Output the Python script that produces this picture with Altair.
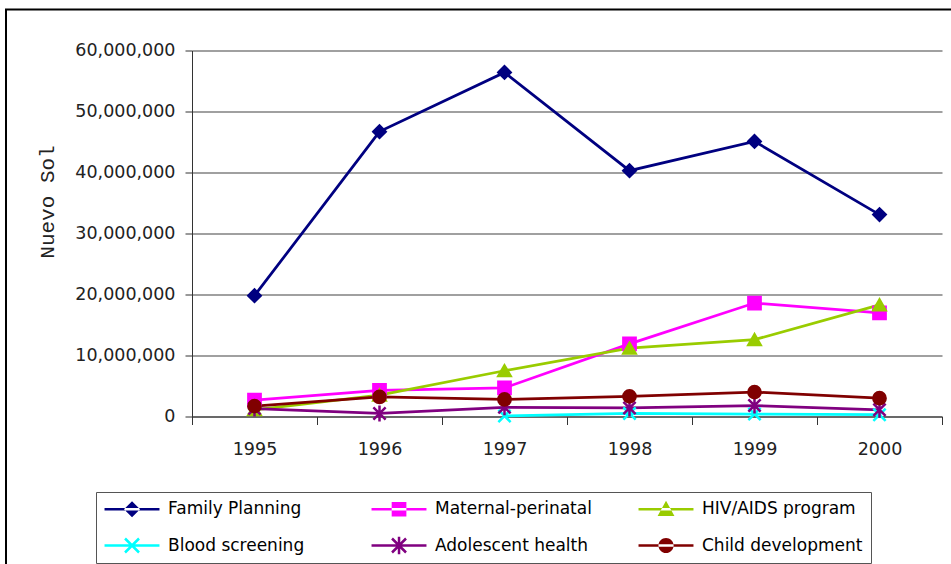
import math

import altair as alt
import pandas as pd

# Annual spending by programme, in Nuevo Sol
years = [1995, 1996, 1997, 1998, 1999, 2000]
series_names = [
    "Family Planning",
    "Maternal-perinatal",
    "HIV/AIDS program",
    "Blood screening",
    "Adolescent health",
    "Child development",
]
family_planning = [19_800_000, 46_700_000, 56_400_000, 40_300_000, 45_100_000, 33_100_000]
maternal_perinatal = [2_700_000, 4_300_000, 4_700_000, 11_900_000, 18_600_000, 17_000_000]
hiv_aids = [1_100_000, 3_500_000, 7_500_000, 11_200_000, 12_600_000, 18_300_000]
blood_screening = [None, None, 100_000, 500_000, 400_000, 300_000]
adolescent_health = [1_300_000, 500_000, 1_500_000, 1_400_000, 1_800_000, 1_100_000]
child_development = [1_700_000, 3_200_000, 2_800_000, 3_300_000, 4_000_000, 3_000_000]
y_ticks = [0, 10_000_000, 20_000_000, 30_000_000, 40_000_000, 50_000_000, 60_000_000]

series_colors = ["#000080", "#FF00FF", "#99CC00", "#00FFFF", "#800080", "#800000"]

# markers drawn on the data points
X_PATH = "M-1,-1L1,1M-1,1L1,-1"
marker_shapes = [
    "diamond",
    "square",
    "triangle-up",
    X_PATH,
    X_PATH + "M0,-1.3L0,1.3",
    "circle",
]


# legend swatches: a filled line segment with the marker in its middle,
# all built from filled outlines so a single fill colour draws them
def bar(x0, y0, x1, y1, half):
    dx, dy = x1 - x0, y1 - y0
    n = math.hypot(dx, dy)
    nx, ny = -dy / n * half, dx / n * half
    pts = [(x0 + nx, y0 + ny), (x1 + nx, y1 + ny), (x1 - nx, y1 - ny), (x0 - nx, y0 - ny)]
    return "M" + "L".join(f"{px:.3f},{py:.3f}" for px, py in pts) + "Z"


CX = 2.79
SEG = bar(-1.14, 0, 6.71, 0, 0.19)
legend_shapes = [
    SEG + f"M{CX},-1.15L{CX + 1.15},0L{CX},1.15L{CX - 1.15},0Z",
    SEG + f"M{CX - 1.05},-1.05L{CX + 1.05},-1.05L{CX + 1.05},1.05L{CX - 1.05},1.05Z",
    SEG + f"M{CX},-1.2L{CX + 1.2},0.95L{CX - 1.2},0.95Z",
    SEG + bar(CX - 1, -1, CX + 1, 1, 0.18) + bar(CX - 1, 1, CX + 1, -1, 0.18),
    SEG + bar(CX - 1, -1, CX + 1, 1, 0.18) + bar(CX - 1, 1, CX + 1, -1, 0.18)
    + bar(CX, -1.25, CX, 1.25, 0.18),
    SEG + f"M{CX + 1.08},0A1.08,1.08,0,1,1,{CX - 1.08},0A1.08,1.08,0,1,1,{CX + 1.08},0Z",
]

all_values = [family_planning, maternal_perinatal, hiv_aids,
              blood_screening, adolescent_health, child_development]
rows = []
for name, vals in zip(series_names, all_values):
    for yr, v in zip(years, vals):
        if v is not None:
            rows.append({"year": str(yr), "series": name, "value": v})
df = pd.DataFrame(rows)

x_enc = alt.X(
    "year:O",
    bandPosition=0.5,
    scale=alt.Scale(type="band", paddingInner=0, paddingOuter=0),
    axis=alt.Axis(
        title=None,
        tickBand="extent",
        labelAngle=0,
        tickSize=8,
        labelPadding=16,
        labelFont="DejaVu Sans",
        labelFontSize=17.5,
        labelColor="#222222",
        domainColor="#333333",
        tickColor="#333333",
        grid=False,
    ),
)
y_enc = alt.Y(
    "value:Q",
    scale=alt.Scale(domain=[0, 60_000_000], nice=False),
    axis=alt.Axis(
        title="Nuevo Sol",
        values=y_ticks,
        labelExpr="format(datum.value, ',d')",
        tickSize=7,
        labelPadding=10,
        labelFont="DejaVu Sans",
        labelFontSize=17.5,
        labelColor="#222222",
        domainColor="#333333",
        tickColor="#333333",
        grid=True,
        gridColor="#808080",
        gridWidth=1.6,
        titleFont="Liberation Mono",
        titleFontSize=21,
        titleFontWeight="normal",
        titleColor="#222222",
        titleAngle=-90,
        titleAlign="center",
        titleBaseline="alphabetic",
        titleX=-139,
        titleY=151,
    ),
)

color_scale = alt.Scale(domain=series_names, range=series_colors)

base = alt.Chart(df)

lines = base.mark_line(strokeWidth=2.75).encode(
    x=x_enc,
    y=y_enc,
    color=alt.Color("series:N", scale=color_scale, legend=None),
)

markers = base.mark_point(filled=True, size=150, strokeWidth=2.5, opacity=1).encode(
    x=x_enc,
    y=y_enc,
    shape=alt.Shape("series:N", scale=alt.Scale(domain=series_names, range=marker_shapes), legend=None),
    fill=alt.Fill("series:N", scale=color_scale, legend=None),
    stroke=alt.Stroke("series:N", scale=color_scale, legend=None),
)

legend_def = alt.Legend(
    title=None,
    orient="none",
    direction="horizontal",
    legendX=-96,
    legendY=441.5,
    columns=3,
    gridAlign="all",
    columnPadding=42,
    rowPadding=18,
    padding=8,
    symbolSize=196,
    symbolStrokeWidth=0,
    symbolOpacity=1,
    labelOffset=47,
    labelFont="DejaVu Sans",
    labelFontSize=17,
    labelColor="#000000",
    labelLimit=400,
    strokeColor="#555555",
    fillColor="#FFFFFF",
)

legend_layer = base.mark_point(filled=True, opacity=0).encode(
    x=x_enc,
    y=y_enc,
    color=alt.Color("series:N", scale=color_scale, legend=legend_def),
    shape=alt.Shape("series:N", scale=alt.Scale(domain=series_names, range=legend_shapes), legend=legend_def),
)

# outer frame along the top and left edges of the figure
frame_src = alt.Chart(alt.Data(values=[{"edge": "frame"}]))
frame_left = frame_src.mark_rule(color="#000000", strokeWidth=2).encode(
    x=alt.value(-186), y=alt.value(-41), y2=alt.value(600)
)
frame_top = frame_src.mark_rule(color="#000000", strokeWidth=2).encode(
    x=alt.value(-187), x2=alt.value(800), y=alt.value(-41)
)

chart = (
    alt.layer(frame_left, frame_top, lines, markers, legend_layer)
    .resolve_scale(color="independent", shape="independent", fill="independent", stroke="independent")
    .resolve_legend(color="independent", shape="independent", fill="independent", stroke="independent")
    .properties(
        width=750,
        height=366,
        autosize=alt.AutoSizeParams(type="none"),
        padding={"left": 192, "top": 50.5, "right": 9, "bottom": 147.5},
        background="#FFFFFF",
    )
    .configure_view(strokeWidth=0)
)

chart.save("out.html", embed_options={"renderer": "svg", "actions": False})
